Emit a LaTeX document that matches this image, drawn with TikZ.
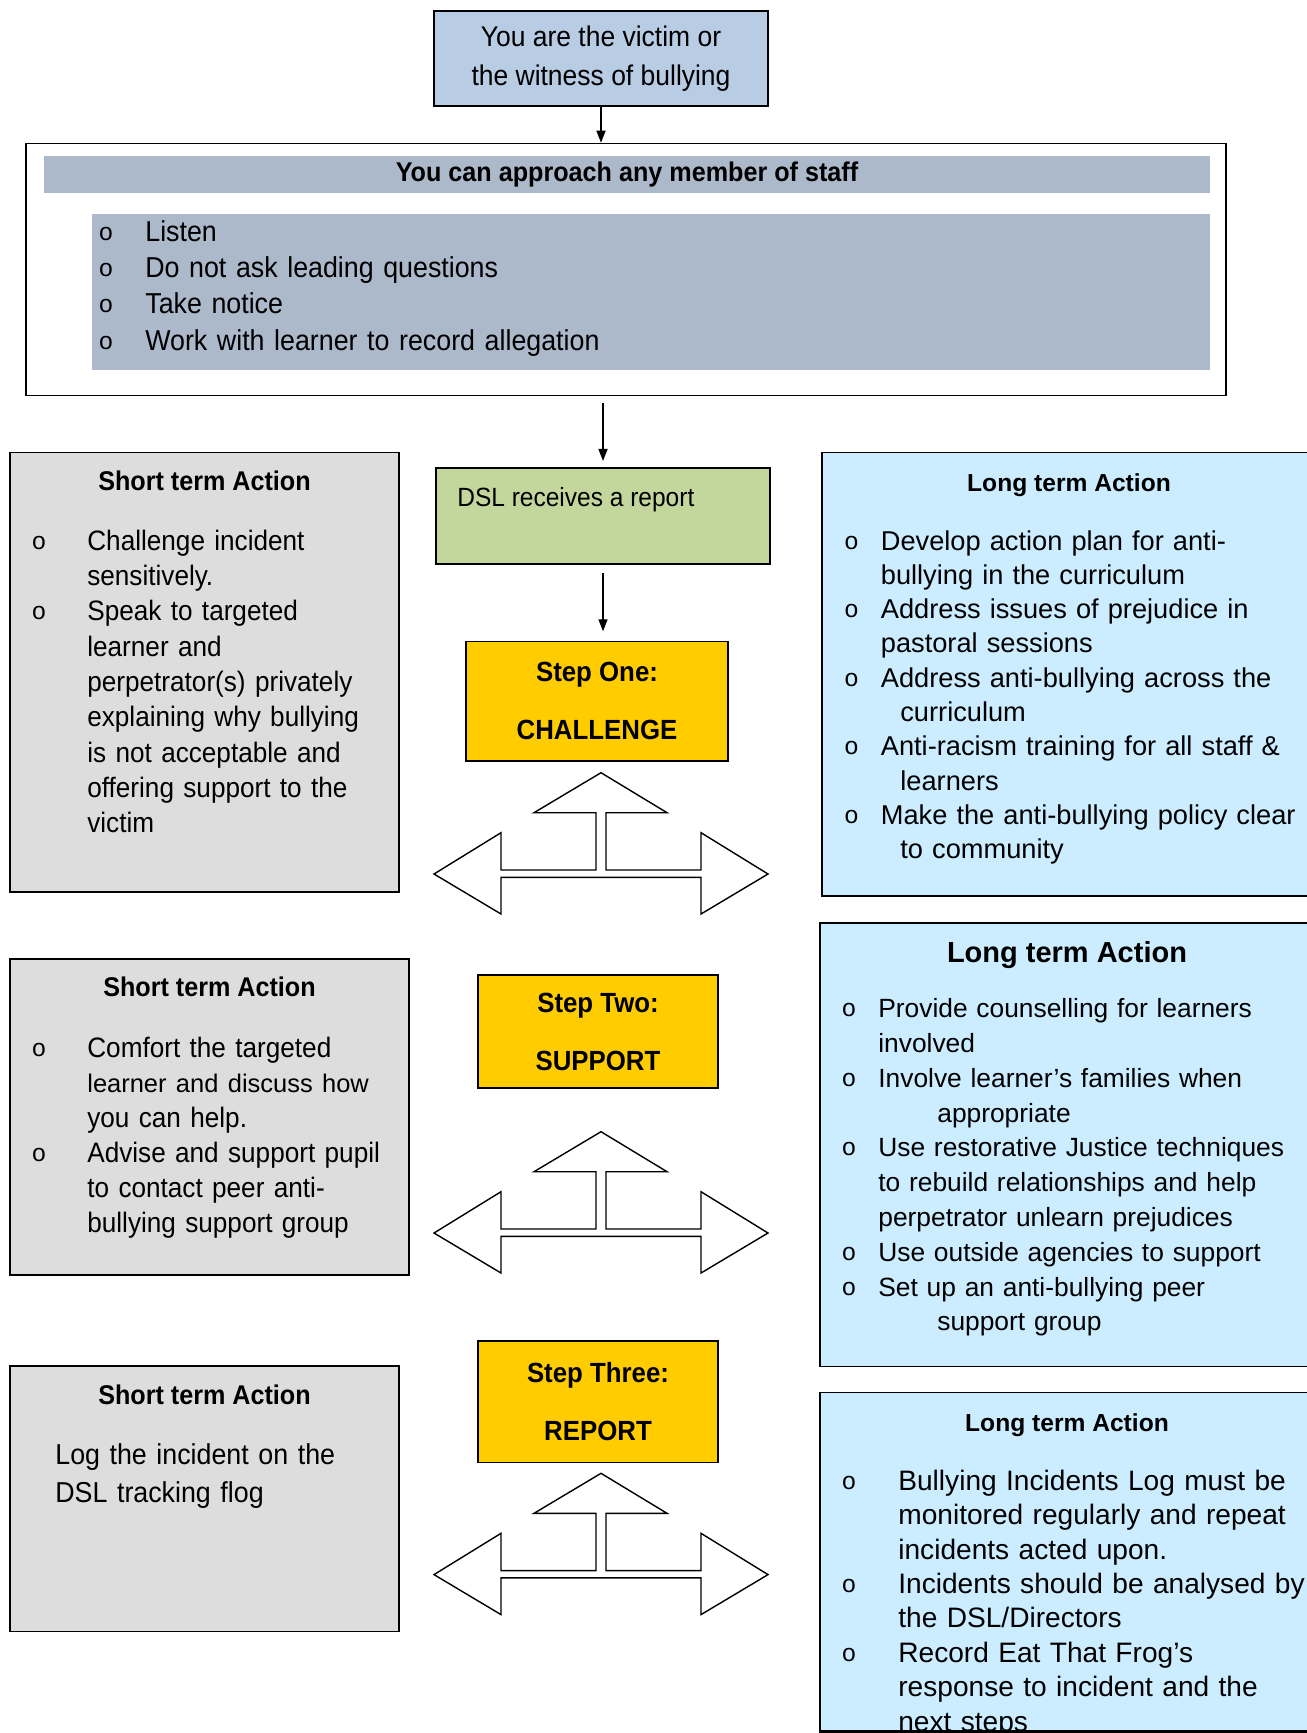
\documentclass[tikz,border=0pt]{standalone}
\usepackage{fontspec}
\usepackage{xcolor}
\usetikzlibrary{arrows.meta}
\setmainfont{Liberation Sans}
\newfontfamily\narrowfont[FakeStretch=0.93]{Liberation Sans}
\newfontfamily\bulfont{Liberation Mono}
\definecolor{VictimBlue}{HTML}{B8CCE4}
\definecolor{StaffBlue}{HTML}{ACB9CA}
\definecolor{DslGreen}{HTML}{C3D69B}
\definecolor{StepYellow}{HTML}{FFCC00}
\definecolor{ShortGray}{HTML}{DDDDDD}
\definecolor{LongBlue}{HTML}{CCECFF}
\newcommand{\bul}[1]{\leavevmode\llap{\raisebox{0.6pt}{\bulfont\fontsize{14pt}{14pt}\selectfont o}\hspace{#1}}}

\begin{document}
\begin{tikzpicture}[x=0.02cm, y=-0.02cm,
    flowbox/.style={draw, line width=0.9pt, inner sep=0pt},
    band/.style={fill=StaffBlue, inner sep=0pt},
    headtext/.style={anchor=base, inner sep=0pt, font=\narrowfont\bfseries\fontsize{15.4pt}{18pt}\selectfont},
    longhead/.style={anchor=base, inner sep=0pt, font=\bfseries\fontsize{14pt}{17pt}\selectfont},
    shortbody/.style={anchor=base west, inner sep=0pt, align=left, text width=6.4cm, font=\narrowfont\fontsize{16pt}{20.1pt}\selectfont},
    longbody/.style={anchor=base west, inner sep=0pt, align=left, text width=8.8cm, font=\fontsize{15.5pt}{19.5pt}\selectfont},
    stepbox/.style={flowbox, fill=StepYellow, align=center, font=\narrowfont\bfseries\fontsize{15.8pt}{33pt}\selectfont},
    flowarrow/.style={-{Triangle[length=0.24cm, width=0.18cm]}, line width=0.8pt},
    triarrow/.style={draw, fill=white, line width=0.8pt}]
    \clip (0,0) rectangle (1307,1733);

    \node[flowbox, fill=VictimBlue, minimum width=6.68cm, minimum height=1.9cm, align=center,
          font=\narrowfont\fontsize{16.2pt}{22.2pt}\selectfont] (victim) at (601,58.5)
          {You are the victim or\\the witness of bullying};

    \node[flowbox, fill=white, minimum width=24cm, minimum height=5.04cm] (staff) at (626,269.5) {};
    \node[band, minimum width=23.32cm, minimum height=0.76cm,
          font=\narrowfont\bfseries\fontsize{15.4pt}{18pt}\selectfont] (staffhead) at (627,174.5)
          {You can approach any member of staff};
    \node[band, minimum width=22.36cm, minimum height=3.12cm] (staffband) at (651,292) {};
    \node[shortbody, text width=20cm, font=\narrowfont\fontsize{16.4pt}{20.6pt}\selectfont] (stafflist) at (145,241.5)
          {\bul{0.64cm}Listen\\
           \bul{0.64cm}Do not ask leading questions\\
           \bul{0.64cm}Take notice\\
           \bul{0.64cm}Work with learner to record allegation};

    \node[flowbox, fill=DslGreen, minimum width=6.68cm, minimum height=1.93cm] (dsl) at (603,516) {};
    \node[anchor=base west, inner sep=0pt, font=\narrowfont\fontsize{15pt}{18pt}\selectfont] (dsltext) at (457,506.5)
          {DSL receives a report};

    \node[stepbox, minimum width=5.24cm, minimum height=2.39cm] (challenge) at (597,701.3) {Step One:\\CHALLENGE};
    \node[stepbox, minimum width=4.8cm, minimum height=2.26cm] (support) at (598,1031.5) {Step Two:\\SUPPORT};
    \node[stepbox, minimum width=4.8cm, minimum height=2.43cm] (report) at (598,1401.7) {Step Three:\\REPORT};

    \draw[flowarrow] (victim.south) -- (victim.south |- staff.north);
    \draw[flowarrow, shorten <=0.14cm, shorten >=0.12cm] (dsl.north |- staff.south) -- (dsl.north);
    \draw[flowarrow, shorten <=0.16cm, shorten >=0.19cm] (dsl.south) -- (dsl.south |- challenge.north);

    \foreach \ty in {772.7,1131.7,1473.3}
      \draw[triarrow] (501,\ty+60) -- (501,\ty+97.3) -- (596,\ty+97.3) -- (596,\ty+40) -- (534,\ty+40)
        -- (601,\ty) -- (667,\ty+40) -- (606,\ty+40) -- (606,\ty+97.3) -- (701,\ty+97.3) -- (701,\ty+60)
        -- (768,\ty+101.3) -- (701,\ty+141.3) -- (701,\ty+104.6) -- (501,\ty+104.6) -- (501,\ty+141.3)
        -- (434,\ty+101.3) -- cycle;

    \node[flowbox, fill=ShortGray, minimum width=7.78cm, minimum height=8.79cm] (short1) at (204.5,672.3) {};
    \node[headtext] (short1head) at (204.5,490.5) {Short term Action};
    \node[shortbody] (short1list) at (87,550.2)
          {\bul{0.82cm}Challenge incident\\
           sensitively.\\
           \bul{0.82cm}Speak to targeted\\
           learner and\\
           perpetrator(s) privately\\
           explaining why bullying\\
           is not acceptable and\\
           offering support to the\\
           victim};

    \node[flowbox, fill=LongBlue, minimum width=9.86cm, minimum height=8.87cm] (long1) at (1068.5,674.3) {};
    \node[longhead] (long1head) at (1069,491.5) {Long term Action};
    \node[longbody] (long1list) at (880.5,550.2)
          {\bul{0.44cm}Develop action plan for anti-\\
           bullying in the curriculum\\
           \bul{0.44cm}Address issues of prejudice in\\
           pastoral sessions\\
           \bul{0.44cm}Address anti-bullying across the\\
           \hspace*{0.39cm}curriculum\\
           \bul{0.44cm}Anti-racism training for all staff \&\\
           \hspace*{0.39cm}learners\\
           \bul{0.44cm}Make the anti-bullying policy clear\\
           \hspace*{0.39cm}to community};

    \node[flowbox, fill=ShortGray, minimum width=7.98cm, minimum height=6.32cm] (short2) at (209.5,1117) {};
    \node[headtext] (short2head) at (209.5,996.8) {Short term Action};
    \node[shortbody, font=\narrowfont\fontsize{16pt}{19.9pt}\selectfont] (short2list) at (87,1057.5)
          {\bul{0.82cm}Comfort the targeted\\
           {\rmfamily\fontsize{14.5pt}{19.9pt}\selectfont learner and discuss how}\\
           you can help.\\
           \bul{0.82cm}Advise and support pupil\\
           to contact peer anti-\\
           bullying support group};

    \node[flowbox, fill=LongBlue, minimum width=9.9cm, minimum height=8.88cm] (long2) at (1067.5,1144.7) {};
    \node[longhead, font=\bfseries\fontsize{16.5pt}{19pt}\selectfont] (long2head) at (1067,962) {Long term Action};
    \node[longbody, font=\fontsize{15pt}{19.8pt}\selectfont] (long2list) at (878,1017.8)
          {\bul{0.44cm}Provide counselling for learners\\
           involved\\
           \bul{0.44cm}Involve learner’s families when\\
           \hspace*{1.18cm}appropriate\\
           \bul{0.44cm}Use restorative Justice techniques\\
           to rebuild relationships and help\\
           perpetrator unlearn prejudices\\
           \bul{0.44cm}Use outside agencies to support\\
           \bul{0.44cm}Set up an anti-bullying peer\\
           \hspace*{1.18cm}support group};

    \node[flowbox, fill=ShortGray, minimum width=7.78cm, minimum height=5.32cm] (short3) at (204.5,1498.7) {};
    \node[headtext] (short3head) at (204.5,1404.2) {Short term Action};
    \node[shortbody, font=\narrowfont\fontsize{16.4pt}{21.8pt}\selectfont] (short3list) at (55,1464.5)
          {Log the incident on the\\
           DSL tracking flog};

    \node[flowbox, fill=LongBlue, minimum width=9.9cm, minimum height=6.77cm] (long3) at (1067.5,1561.9) {};
    \node[longhead] (long3head) at (1067,1431.2) {Long term Action};
    \begin{scope}
      \clip (long3.north west) rectangle (long3.south east);
      \node[longbody, text width=8.4cm, font=\fontsize{16pt}{19.6pt}\selectfont] (long3list) at (898,1490.2)
            {\bul{0.84cm}Bullying Incidents Log must be\\
             monitored regularly and repeat\\
             incidents acted upon.\\
             \bul{0.84cm}Incidents should be analysed by\\
             the DSL/Directors\\
             \bul{0.84cm}Record Eat That Frog’s\\
             response to incident and the\\
             next steps};
    \end{scope}
    \draw[line width=0.9pt] (long3.south west) -- (long3.south east);
\end{tikzpicture}
\end{document}
